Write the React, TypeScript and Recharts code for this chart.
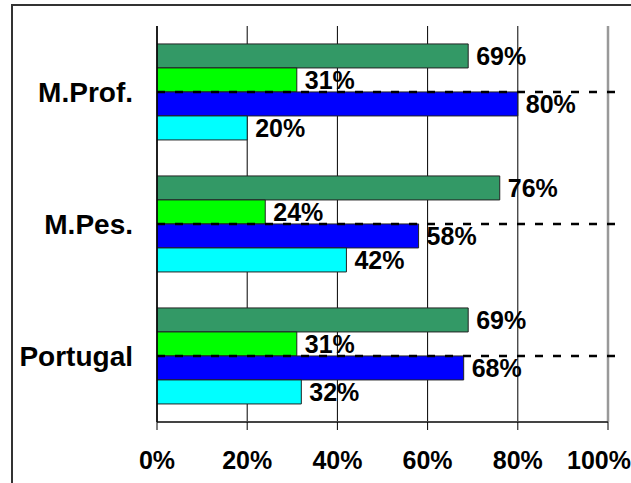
import React from 'react';
import {
  BarChart,
  Bar,
  XAxis,
  YAxis,
  CartesianGrid,
  ReferenceLine,
  LabelList,
} from 'recharts';

// Shares per area, in percent
const categories = ['M.Prof.', 'M.Pes.', 'Portugal'];
const seriesA = [69, 76, 69];
const seriesB = [31, 24, 31];
const seriesC = [80, 58, 68];
const seriesD = [20, 42, 32];
const xTicks = [0, 20, 40, 60, 80, 100];
const bandEdges = [0, 1, 2, 3];
const dashEnd = 102.5;

const data = categories.map((name, i) => ({
  name,
  a: seriesA[i],
  b: seriesB[i],
  c: seriesC[i],
  d: seriesD[i],
}));

const FONT = '"Liberation Sans", Arial, sans-serif';

const pct = (v: any) => `${v}%`;

const labelStyle = { fontFamily: FONT, fontWeight: 700, fontSize: 25, fill: '#000' };

const bars = [
  { key: 'a', color: '#339966' },
  { key: 'b', color: '#00ff00' },
  { key: 'c', color: '#0000ff' },
  { key: 'd', color: '#00ffff' },
];

export default function App() {
  return (
    <div
      style={{
        position: 'absolute',
        left: 0,
        top: 0,
        width: 631,
        height: 483,
        overflow: 'hidden',
        background: '#fff',
      }}
    >
      {/* outer frame, only its top-left corner falls inside the view */}
      <div
        style={{
          position: 'absolute',
          left: 11,
          top: 4,
          width: 700,
          height: 600,
          borderLeft: '2px solid #333',
          borderTop: '2px solid #333',
        }}
      />
      <BarChart
        width={631}
        height={483}
        data={data}
        layout="vertical"
        margin={{ top: 26, right: 23, bottom: 0, left: 0 }}
        barCategoryGap="13.6%"
        barGap={0}
        style={{ position: 'absolute', left: 0, top: 0 }}
      >
        <CartesianGrid horizontal={false} stroke="#000" strokeWidth={1} />
        <XAxis
          type="number"
          domain={[0, 100]}
          ticks={xTicks}
          tickFormatter={pct}
          height={61}
          tickSize={8}
          tickMargin={21}
          axisLine={{ stroke: '#444', strokeWidth: 2 }}
          tickLine={{ stroke: '#000' }}
          tick={{ fontFamily: FONT, fontWeight: 700, fontSize: 25, fill: '#000' }}
          allowDataOverflow
        />
        {/* numeric twin of the category axis, used for the band edge ticks */}
        <YAxis
          yAxisId="edges"
          type="number"
          domain={[0, 3]}
          ticks={bandEdges}
          width={0}
          tick={false}
          axisLine={false}
          tickSize={9}
          tickLine={{ stroke: '#000' }}
        />
        <YAxis
          type="category"
          dataKey="name"
          width={157}
          tickSize={0}
          tickMargin={24}
          tickLine={false}
          axisLine={{ stroke: '#000', strokeWidth: 1.5 }}
          tick={{ fontFamily: FONT, fontWeight: 700, fontSize: 28, fill: '#000' }}
        />
        {bars.map((s) => (
          <Bar
            key={s.key}
            dataKey={s.key}
            fill={s.color}
            stroke="#222"
            strokeWidth={1}
            isAnimationActive={false}
          >
            <LabelList dataKey={s.key} position="right" offset={8} formatter={pct} style={labelStyle} />
          </Bar>
        ))}
        <ReferenceLine yAxisId="edges" y={3} stroke="#999" strokeWidth={2} />
        <ReferenceLine x={100} stroke="#999" strokeWidth={2.5} />
        {categories.map((c) => (
          <ReferenceLine
            key={c}
            segment={[
              { x: 0, y: c },
              { x: dashEnd, y: c },
            ]}
            stroke="#000"
            strokeWidth={2.5}
            strokeDasharray="8 10"
            ifOverflow="visible"
          />
        ))}
      </BarChart>
    </div>
  );
}
